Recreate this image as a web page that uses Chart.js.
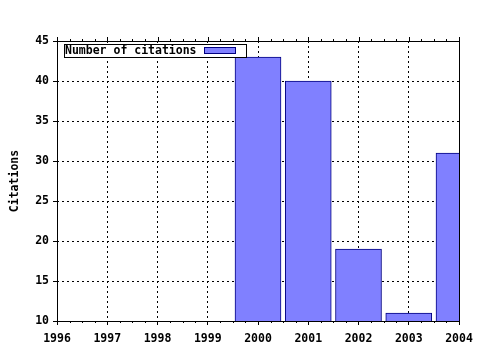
<!DOCTYPE html>
<html>
<head>
<meta charset="utf-8">
<script src="https://cdn.jsdelivr.net/npm/chart.js@4"></script>
<style>
    html, body { margin: 0; padding: 0; background: #fff; }
    #wrap { width: 480px; height: 350px; }
</style>
</head>
<body>
<div id="wrap"><canvas id="chart"></canvas></div>
<script>
const years = [2000, 2001, 2002, 2003, 2004];
const citations = [43, 40, 19, 11, 31];
const seriesLabel = 'Number of citations';
const yTitle = 'Citations';
const xRange = [1996, 2004];
const yRange = [10, 45];

Chart.defaults.font.family = '"DejaVu Sans Mono", monospace';
Chart.defaults.font.size = 11.5;
Chart.defaults.font.weight = 'bold';
Chart.defaults.color = '#000';

// solid frame, minor ticks and the boxed legend inside the plot
const framePlugin = {
    id: 'frame',
    afterDraw(chart) {
        const { ctx, chartArea: a, scales } = chart;
        const x = scales.x;
        ctx.save();
        ctx.strokeStyle = '#000';
        ctx.lineWidth = 1;
        ctx.setLineDash([]);
        ctx.strokeRect(a.left + 0.5, a.top + 0.5, a.right - a.left, a.bottom - a.top);
        ctx.beginPath();
        for (let v = xRange[0]; v <= xRange[1] + 1e-9; v += 0.25) {
            const px = Math.round(x.getPixelForValue(v)) + 0.5;
            const major = Math.abs(v - Math.round(v)) < 1e-6;
            ctx.moveTo(px, a.top);
            ctx.lineTo(px, a.top - (major ? 4 : 2));
            if (!major) {
                ctx.moveTo(px, a.bottom);
                ctx.lineTo(px, a.bottom + 2);
            }
        }
        ctx.stroke();

        const ds = chart.data.datasets[0];
        const lx = 64, ly = 44, lw = 182, lh = 13;
        ctx.fillStyle = '#fff';
        ctx.fillRect(lx, ly, lw, lh);
        ctx.strokeRect(lx + 0.5, ly + 0.5, lw, lh);
        ctx.fillStyle = '#000';
        ctx.font = 'bold 11.5px "DejaVu Sans Mono", monospace';
        ctx.textBaseline = 'middle';
        ctx.fillText(ds.label, lx + 1, ly + lh / 2 + 1);
        ctx.fillStyle = ds.backgroundColor;
        ctx.fillRect(204, 47, 32, 7);
        ctx.strokeStyle = ds.borderColor;
        ctx.strokeRect(204.5, 47.5, 31, 6);
        ctx.restore();
    }
};

new Chart(document.getElementById('chart'), {
    type: 'bar',
    data: {
        datasets: [{
            label: seriesLabel,
            data: years.map((yr, i) => ({ x: yr, y: citations[i] })),
            backgroundColor: '#8080ff',
            borderColor: '#000080',
            borderWidth: 1,
            borderSkipped: 'bottom',
            barThickness: 46
        }]
    },
    options: {
        responsive: true,
        maintainAspectRatio: false,
        animation: false,
        layout: { padding: { top: 41, right: 21, left: 0, bottom: 0 } },
        plugins: {
            legend: { display: false },
            tooltip: { enabled: false }
        },
        scales: {
            x: {
                type: 'linear',
                min: xRange[0],
                max: xRange[1],
                offset: false,
                afterFit: s => { s.height = 29; },
                ticks: { stepSize: 1, padding: 7, callback: v => String(v) },
                grid: {
                    offset: false,
                    color: '#000',
                    tickLength: 4,
                    tickColor: '#000',
                    tickBorderDash: []
                },
                border: { display: false, dash: [2, 3] }
            },
            y: {
                min: yRange[0],
                max: yRange[1],
                afterFit: s => { s.width = 57; },
                ticks: { stepSize: 5, padding: 4 },
                grid: {
                    color: '#000',
                    tickLength: 4,
                    tickColor: '#000',
                    tickBorderDash: []
                },
                border: { display: false, dash: [2, 3] },
                title: {
                    display: true,
                    text: yTitle,
                    padding: { top: 8, bottom: 0 }
                }
            }
        }
    },
    plugins: [framePlugin]
});
</script>
</body>
</html>
